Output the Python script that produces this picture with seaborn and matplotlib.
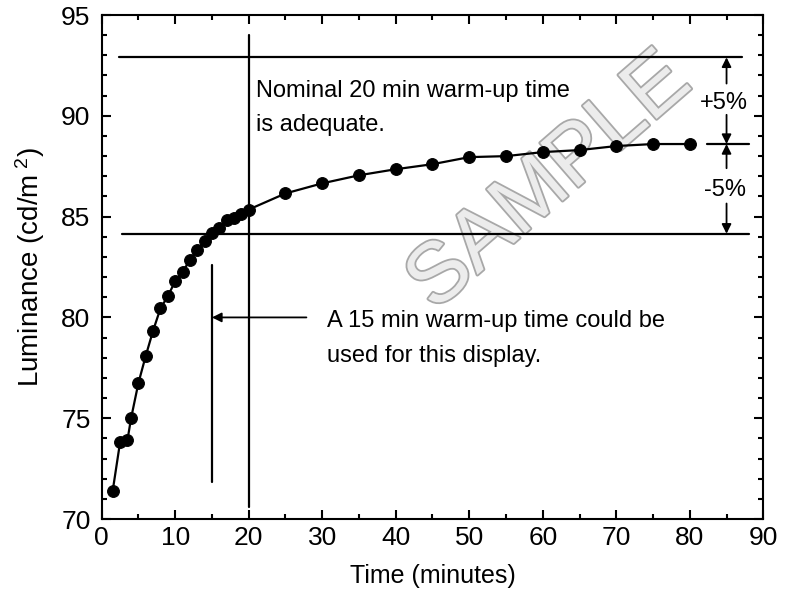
import numpy as np
import pandas as pd
import matplotlib.pyplot as plt
import matplotlib.patheffects as pe
from matplotlib.ticker import MultipleLocator
import seaborn as sns

# Warm-up curve (minutes, cd/m2)
tempo = [1.5, 2.5, 3.5, 4, 5, 6, 7, 8, 9, 10, 11, 12, 13, 14, 15, 16, 17, 18, 19, 20,
         25, 30, 35, 40, 45, 50, 55, 60, 65, 70, 75, 80]
luminancia = [71.4, 73.8, 73.9, 75.0, 76.75, 78.1, 79.35, 80.45, 81.05, 81.8, 82.25, 82.85,
              83.35, 83.8, 84.2, 84.45, 84.85, 84.95, 85.15, 85.35,
              86.15, 86.65, 87.05, 87.35, 87.6, 87.95, 88.0, 88.2, 88.3, 88.5, 88.6, 88.6]

# Reference levels (final value and +/-5%)
nivel_final = 88.6
nivel_mais5 = 92.9
nivel_menos5 = 84.15

x_ticks = [0, 10, 20, 30, 40, 50, 60, 70, 80, 90]
y_ticks = [70, 75, 80, 85, 90, 95]

df = pd.DataFrame({'tempo': tempo, 'luminancia': luminancia})

sns.set_theme(style='ticks')
plt.rcParams['font.family'] = ['Liberation Sans', 'DejaVu Sans']
plt.rcParams['mathtext.fontset'] = 'custom'
plt.rcParams['mathtext.rm'] = 'Liberation Sans'
plt.rcParams['mathtext.it'] = 'Liberation Sans:italic'
plt.rcParams['text.color'] = 'black'
plt.rcParams['axes.labelcolor'] = 'black'

fig = plt.figure(figsize=(7.9, 6.05), dpi=100)
ax = fig.add_axes([0.1287, 0.1421, 0.8375, 0.8331])

# Watermark below everything
ax.text(61.0, 86.7, 'SAMPLE', fontsize=61, rotation=41, ha='center', va='center',
        rotation_mode='anchor', color='#ececec', zorder=0,
        path_effects=[pe.withStroke(linewidth=2.6, foreground='#a8a8a8')])

sns.lineplot(data=df, x='tempo', y='luminancia', ax=ax, color='black', lw=1.6,
             marker='o', markersize=8.5, markeredgecolor='black', zorder=3)

lw = 1.6
# 1. Horizontal reference lines
ax.plot([2.3, 87.1], [nivel_mais5, nivel_mais5], color='black', lw=lw)
ax.plot([2.8, 88.1], [nivel_menos5, nivel_menos5], color='black', lw=lw)
ax.plot([82.4, 88.0], [nivel_final, nivel_final], color='black', lw=lw)

# 2. Vertical lines at 20 and 15 minutes
ax.plot([20, 20], [70.6, 94.0], color='black', lw=lw)
ax.plot([15, 15], [71.85, 82.6], color='black', lw=lw)

seta = dict(arrowstyle='-|>', color='black', lw=1.3, mutation_scale=14,
            shrinkA=0, shrinkB=0)
ax.annotate('', xy=(15, 80), xytext=(27.85, 80), arrowprops=seta)
ax.annotate('', xy=(85, nivel_mais5), xytext=(85, 91.6), arrowprops=seta)
ax.annotate('', xy=(85, nivel_final), xytext=(85, 90.05), arrowprops=seta)
ax.annotate('', xy=(85, nivel_final), xytext=(85, 87.4), arrowprops=seta)
ax.annotate('', xy=(85, nivel_menos5), xytext=(85, 85.65), arrowprops=seta)

ax.text(84.7, 90.62, '+5%', fontsize=17, ha='center', va='center')
ax.text(84.8, 86.32, '-5%', fontsize=17, ha='center', va='center')

ax.text(21.06, 91.8, 'Nominal 20 min warm-up time\nis adequate.', fontsize=17,
        va='top', ha='left', linespacing=1.75)
ax.text(30.6, 80.35, 'A 15 min warm-up time could be\nused for this display.', fontsize=17,
        va='top', ha='left', linespacing=1.75)

# 3. Axes, ticks and labels
ax.set_xlim(0, 90)
ax.set_ylim(70, 95)
ax.set_xticks(x_ticks)
ax.set_yticks(y_ticks)
ax.xaxis.set_minor_locator(MultipleLocator(5))
ax.yaxis.set_minor_locator(MultipleLocator(1))
ax.tick_params(which='both', direction='in', top=True, right=True, width=1.5,
               colors='black', labelsize=19)
ax.tick_params(which='major', length=6.5)
ax.tick_params(which='minor', length=3.6)
ax.tick_params(axis='x', pad=5)
ax.tick_params(axis='y', pad=8)
for s in ax.spines.values():
    s.set_linewidth(1.5)
    s.set_color('black')

ax.set_xlabel('Time (minutes)', fontsize=18, labelpad=10)
ax.set_ylabel(r'Luminance (cd/m$^{\ 2}$)', fontsize=20, labelpad=10)

fig.savefig('out.png', dpi=100)
